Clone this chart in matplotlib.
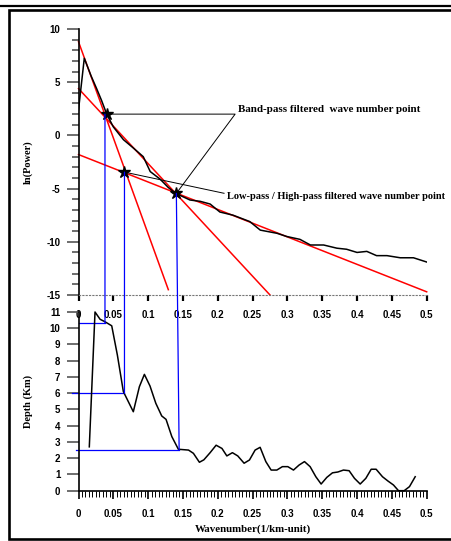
import matplotlib
matplotlib.use("Agg")
import matplotlib.pyplot as plt
import numpy as np
from matplotlib.lines import Line2D
from matplotlib.patches import ConnectionPatch
from matplotlib.ticker import MultipleLocator, FixedLocator

# power spectrum: ln(Power) vs wavenumber
k_pow = [0.0, 0.0083, 0.018, 0.026, 0.033, 0.0405, 0.05, 0.0645, 0.079, 0.093,
         0.103, 0.117, 0.129, 0.1397, 0.16, 0.175, 0.189, 0.203, 0.222, 0.246,
         0.261, 0.285, 0.299, 0.318, 0.333, 0.352, 0.371, 0.385, 0.40, 0.414,
         0.428, 0.443, 0.462, 0.481, 0.50]
ln_pow = [2.4, 7.25, 5.6, 4.4, 3.3, 2.0, 0.8, -0.4, -1.2, -2.0,
          -3.4, -4.1, -4.9, -5.45, -6.07, -6.2, -6.45, -7.2, -7.5, -8.1,
          -8.9, -9.2, -9.5, -9.77, -10.3, -10.3, -10.6, -10.7, -11.0, -10.9,
          -11.3, -11.3, -11.5, -11.5, -11.9]

# fitted red lines (start / end points)
fit_k = [[0.0, 0.129], [0.0, 0.275], [0.0, 0.5]]
fit_v = [[8.8, -14.5], [4.4, -15.0], [-1.8, -14.7]]

# picked wave number points
star_k = [0.0405, 0.066, 0.1405]
star_v = [2.0, -3.45, -5.45]

# depth vs wavenumber
k_dep = [0.0155, 0.0237, 0.031, 0.038, 0.0477, 0.0558, 0.0644, 0.0787, 0.0874, 0.0946,
         0.1027, 0.111, 0.1195, 0.1257, 0.134, 0.1434, 0.158, 0.165, 0.1736, 0.180,
         0.189, 0.1976, 0.206, 0.213, 0.221, 0.2287, 0.2378, 0.2455, 0.2536, 0.2608,
         0.269, 0.2766, 0.2848, 0.2928, 0.3006, 0.3087, 0.3168, 0.3245, 0.3326, 0.3408,
         0.3484, 0.3566, 0.3647, 0.3724, 0.3805, 0.3886, 0.3963, 0.4045, 0.4126, 0.4203,
         0.4274, 0.4365, 0.4442, 0.4523, 0.4595, 0.4677, 0.4753, 0.4835]
depth = [2.7, 11.0, 10.55, 10.4, 10.15, 8.35, 6.1, 4.86, 6.4, 7.16,
         6.44, 5.38, 4.6, 4.39, 3.33, 2.55, 2.5, 2.3, 1.75, 1.9,
         2.34, 2.8, 2.6, 2.14, 2.34, 2.14, 1.69, 1.89, 2.5, 2.67,
         1.79, 1.27, 1.27, 1.48, 1.48, 1.27, 1.58, 1.79, 1.48, 0.86,
         0.41, 0.82, 1.1, 1.15, 1.27, 1.23, 0.76, 0.41, 0.76, 1.32,
         1.32, 0.86, 0.6, 0.35, 0.0, 0.0, 0.25, 0.86]

# blue projection lines: wavenumber in the depth panel and the depth read
proj_k = [0.038, 0.066, 0.1445]
proj_top_k = [0.038, 0.066, 0.1405]
proj_depth = [10.3, 6.0, 2.5]
proj_start = [0.0, -0.01, -0.003]

x_ticks = [0, 0.05, 0.1, 0.15, 0.2, 0.25, 0.3, 0.35, 0.4, 0.45, 0.5]
x_labels = ["0", "0.05", "0.1", "0.15", "0.2", "0.25", "0.3", "0.35", "0.4", "0.45", "0.5"]

SANS = "Liberation Sans"
SERIF = "Liberation Serif"
TICK_FS = 7
LAB_FS = 7.5

fig = plt.figure(figsize=(4.52, 5.41), dpi=100)

ax1 = fig.add_axes([0.1737, 0.4547, 0.7703, 0.4917])
ax2 = fig.add_axes([0.1737, 0.0930, 0.7703, 0.3303])

for ax in (ax1, ax2):
    ax.set_facecolor("none")
    ax.spines["top"].set_visible(False)
    ax.spines["right"].set_visible(False)
    ax.spines["left"].set_linewidth(1.2)
    ax.set_xlim(0, 0.5)
    ax.xaxis.set_major_locator(FixedLocator(x_ticks))
    ax.set_xticklabels(x_labels, fontfamily=SANS, fontweight="bold", fontsize=TICK_FS)

# ---- top panel ----
ax1.set_ylim(-15, 10)
ax1.spines["bottom"].set_linestyle((0, (1, 2)))
ax1.spines["bottom"].set_color("#777777")
ax1.spines["bottom"].set_linewidth(0.8)
ax1.yaxis.set_minor_locator(MultipleLocator(1))
ax1.set_yticks([-15, -10, -5, 0, 5, 10])
ax1.set_yticklabels(["-15", "-10", "-5", "0", "5", "10"], fontfamily=SANS,
                    fontweight="bold", fontsize=TICK_FS)
ax1.tick_params(axis="y", which="major", length=9, width=1.2, color="#555555", pad=4)
ax1.tick_params(axis="y", which="minor", length=5, width=1.2, color="#555555")
ax1.tick_params(axis="x", which="major", length=4, width=1.6, color="black", pad=7)
ax1.set_ylabel("ln(Power)", fontfamily=SERIF, fontweight="bold", fontsize=LAB_FS, labelpad=10)

ax1.plot(k_pow, ln_pow, color="black", lw=1.1, zorder=3)
for kk, vv in zip(fit_k, fit_v):
    ax1.plot(kk, vv, color="red", lw=1.1, zorder=2, clip_on=False)

# annotation leaders
ax1.plot([star_k[0], 0.2249, star_k[2]], [star_v[0], 2.0, star_v[2]],
         color="black", lw=0.7, zorder=4, clip_on=False)
ax1.plot([star_k[1], 0.209], [star_v[1], -5.44], color="black", lw=0.7, zorder=4, clip_on=False)
ax1.text(0.229, 2.45, "Band-pass filtered  wave number point", fontfamily=SERIF,
         fontweight="bold", fontsize=7.9, ha="left", va="center")
ax1.text(0.2134, -5.76, "Low-pass / High-pass filtered wave number point", fontfamily=SERIF,
         fontweight="bold", fontsize=7.5, ha="left", va="center", clip_on=False)

ax1.plot(star_k, star_v, linestyle="none", marker="*", markersize=9,
         color="black", zorder=6)

# ---- bottom panel ----
ax2.set_ylim(0, 11)
ax2.set_yticks(range(0, 12))
ax2.set_yticklabels([str(i) for i in range(12)], fontfamily=SANS, fontweight="bold",
                    fontsize=TICK_FS)
ax2.xaxis.set_minor_locator(MultipleLocator(0.005))
ax2.spines["bottom"].set_linewidth(1.2)
ax2.tick_params(axis="y", which="major", length=9, width=1.2, color="#555555", pad=4)
ax2.tick_params(axis="x", which="major", length=6, width=1.2, color="black", pad=7)
ax2.tick_params(axis="x", which="minor", length=4, width=0.7, color="black")
ax2.set_ylabel("Depth (Km)", fontfamily=SERIF, fontweight="bold", fontsize=LAB_FS, labelpad=12)
ax2.set_xlabel("Wavenumber(1/km-unit)", fontfamily=SERIF, fontweight="bold",
               fontsize=7.8, labelpad=4)

ax2.plot(k_dep, depth, color="black", lw=1.1, zorder=3, clip_on=False)

for kt, vt, kb, d, x0 in zip(proj_top_k, star_v, proj_k, proj_depth, proj_start):
    con = ConnectionPatch(xyA=(kt, vt), coordsA=ax1.transData,
                          xyB=(kb, d), coordsB=ax2.transData,
                          color="blue", lw=0.9, zorder=1)
    fig.add_artist(con)
    ax2.plot([x0, kb], [d, d], color="blue", lw=0.9, clip_on=False, zorder=2)

# page frame
fig.add_artist(Line2D([0, 1], [1 - 5.8 / 541, 1 - 5.8 / 541], transform=fig.transFigure,
                      color="black", lw=1.6))
fig.add_artist(Line2D([1.0, 8.5 / 452, 8.5 / 452, 1.0],
                      [1 - 9.7 / 541, 1 - 9.7 / 541, 1 - 538.5 / 541, 1 - 538.5 / 541],
                      transform=fig.transFigure, color="black", lw=1.9,
                      solid_joinstyle="miter"))

fig.savefig("out.png", dpi=100)
